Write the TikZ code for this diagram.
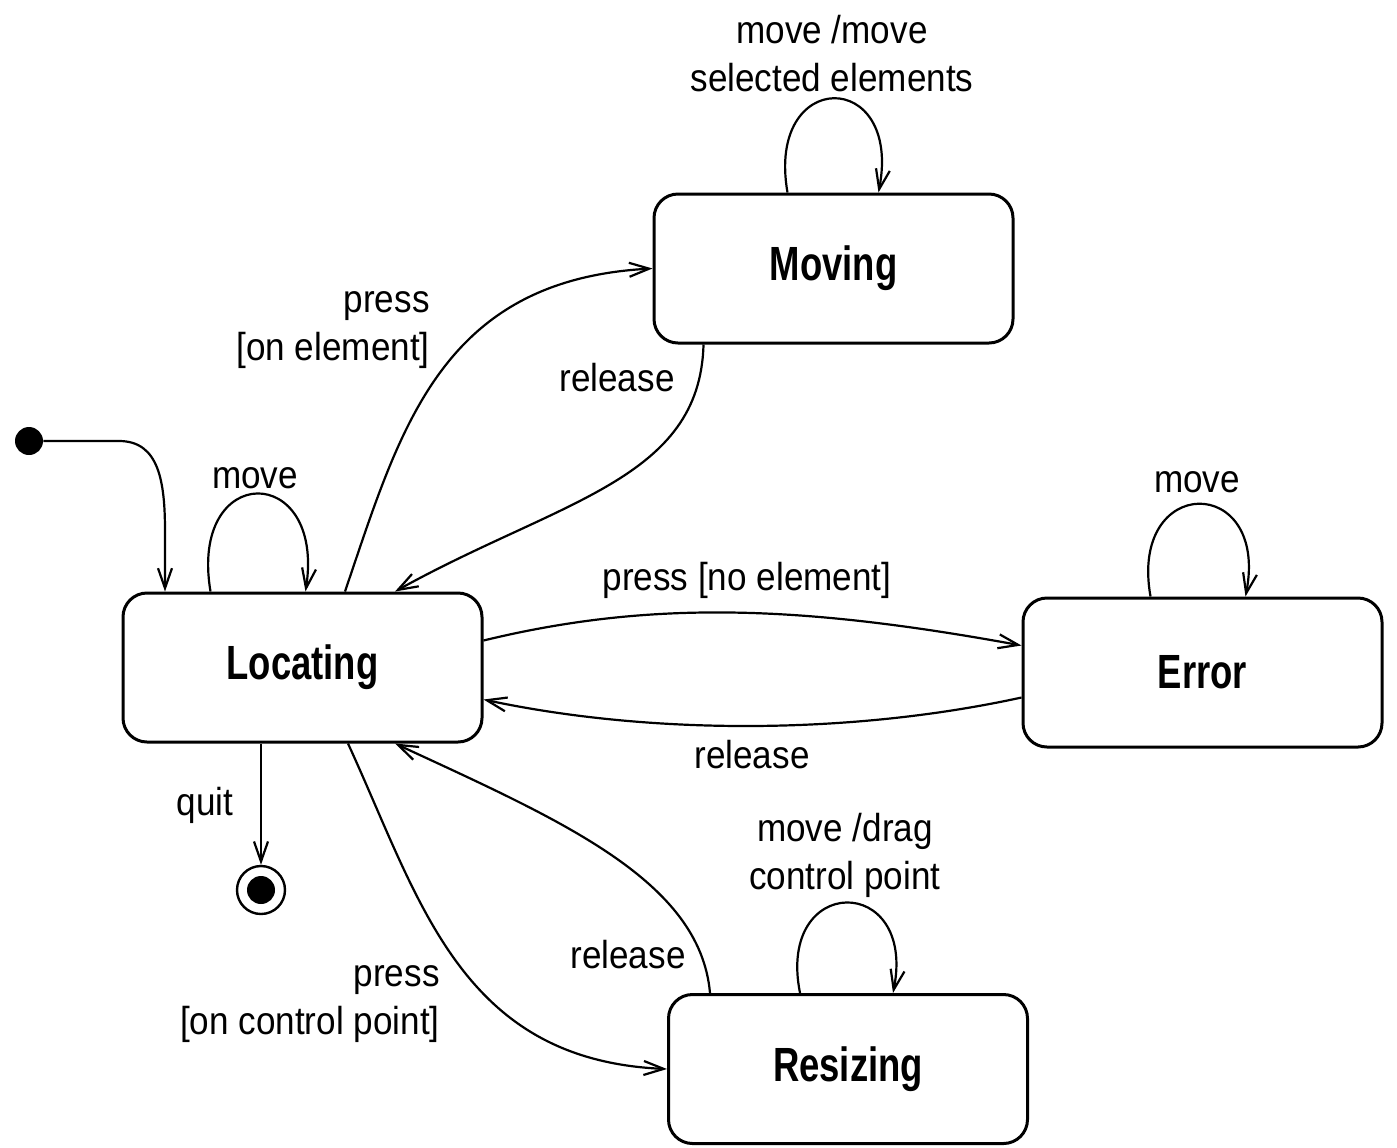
\documentclass[tikz,border=0pt]{standalone}
\usepackage{fontspec}
\setmainfont[FakeStretch=0.9]{Liberation Sans}
\newfontfamily\statefont[FakeStretch=0.76]{Liberation Sans}
\usetikzlibrary{arrows.meta,calc}
\begin{document}
\begin{tikzpicture}[x=0.5pt,y=-0.5pt,
  state/.style={draw, line width=1.5pt, rounded corners=12pt,
    minimum width=179.5pt, minimum height=74.5pt,
    font=\statefont\bfseries\fontsize{24}{28}\selectfont},
  tr/.style={line width=1.1pt, -{Straight Barb[length=10pt,width=7pt,line width=1.1pt]}},
  lbl/.style={font=\fontsize{19.5}{24}\selectfont, inner sep=0pt},
]
\useasboundingbox (0,0) rectangle (1397,1147);

% states
\node[state] (moving)   at (833.5,268.5) {Moving};
\node[state] (locating) at (302.5,667.5) {Locating};
\node[state] (error)    at (1202.5,672.5) {Error};
\node[state] (resizing) at (848,1069) {Resizing};

% pseudo states
\node[circle, fill, inner sep=0pt, minimum size=14pt] (init) at (29,441) {};
\node[circle, draw, line width=1.2pt, inner sep=0pt, minimum size=24pt] (final) at (261,890) {};
\fill (final) circle (7pt);

% initial transition
\draw[tr] (init) -- ($(init)+(90,0)$)
  .. controls +(40,0) and ($(locating.north)+(-137.5,-110)$) .. ($(locating.north)+(-137.5,-60)$)
  -- ($(locating.north)+(-137.5,0)$);

% final transition
\draw[tr] (final.north |- locating.south) -- (final.north);

% self loops
\draw[tr] ($(locating.north)+(-92,0)$) .. controls +(-22,-130) and +(20,-130) .. ($(locating.north)+(3,0)$);
\draw[tr] ($(moving.north)+(-46,0)$) .. controls +(-22,-125) and +(24,-125) .. ($(moving.north)+(45,0)$);
\draw[tr] ($(error.north)+(-52,0)$) .. controls +(-22,-123) and +(24,-123) .. ($(error.north)+(43,0)$);
\draw[tr] ($(resizing.north)+(-48,0)$) .. controls +(-24,-120) and +(24,-120) .. ($(resizing.north)+(45,0)$);

% transitions between states
\draw[tr] ($(locating.north)+(42.5,0)$) .. controls (400,430) and (440,280) .. (moving.west);
\draw[tr] ($(moving.south)+(-130,0)$) .. controls (700,480) and (560,500) .. ($(locating.north)+(92.5,0)$);
\draw[tr] ($(locating.east)+(0,-27)$) .. controls (650,600) and (800,605) .. ($(error.west)+(0,-27)$);
\draw[tr] ($(error.west)+(0,25)$) .. controls (850,735) and (650,735) .. ($(locating.east)+(0,32)$);
\draw[tr] ($(locating.south)+(45.5,0)$) .. controls (420,900) and (460,1060) .. (resizing.west);
\draw[tr] ($(resizing.north)+(-138,0)$) .. controls (700,880) and (560,820) .. ($(locating.south)+(92.5,0)$);

% labels
\node[lbl] (lbLocMove) at (255,478) {move};
\node[lbl, align=center] (lbMovMove) at (832,54) {move /move\\selected elements};
\node[lbl] (lbErrMove) at (1197,482) {move};
\node[lbl, align=center] (lbResMove) at (845,855) {move /drag\\control point};
\node[lbl, align=right, anchor=east] (lbPressEl) at (430,330) {press\\{}[on element]};
\node[lbl] (lbRelMov) at (617,378) {release};
\node[lbl] (lbPressNo) at (747,580) {press [no element]};
\node[lbl] (lbRelErr) at (752,755) {release};
\node[lbl] (lbQuit) at (205,805) {quit};
\node[lbl] (lbRelRes) at (628,955) {release};
\node[lbl, align=right, anchor=east] (lbPressCp) at (440,1004) {press\\{}[on control point]};
\end{tikzpicture}
\end{document}
